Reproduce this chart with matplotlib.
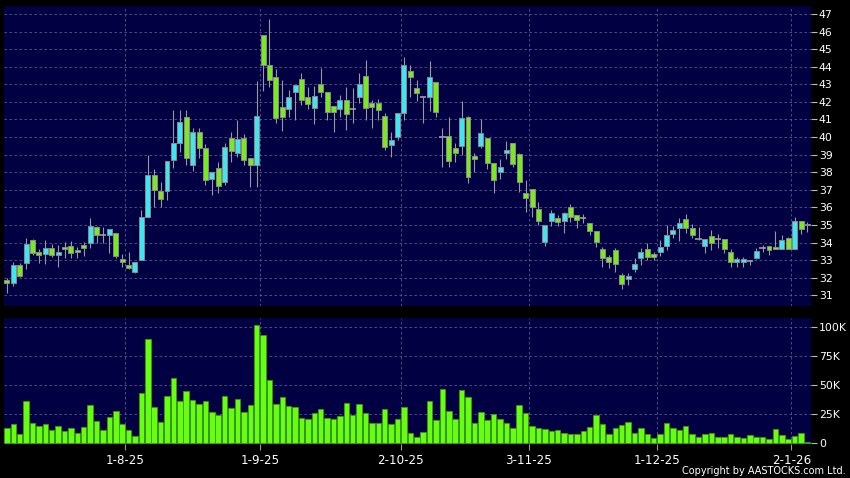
import numpy as np
import matplotlib
matplotlib.use("Agg")
import matplotlib.pyplot as plt

# daily candles, index 0 = first trading day shown
opens = [31.85, 31.68, 32.71, 32.82, 34.13, 33.45, 33.33, 33.71, 33.28, 33.77,
         33.83, 33.56, 33.88, 33.96, 34.90, 34.43, 34.43, 34.56, 33.05, 32.71,
         32.31, 33.02, 35.44, 37.82, 36.95, 36.93, 38.70, 39.64, 41.16, 38.41,
         40.27, 39.40, 37.60, 38.26, 37.43, 39.97, 39.08, 39.97, 38.79, 38.41,
         45.81, 44.10, 43.40, 41.73, 41.58, 42.58, 43.28, 42.26, 41.64, 43.00,
         42.55, 41.79, 41.58, 42.11, 41.58, 42.26, 43.49, 41.96, 41.92, 41.20,
         39.53, 40.02, 41.35, 43.76, 42.77, 42.26, 42.26, 43.11, 40.02, 40.08,
         39.36, 39.49, 41.16, 38.92, 39.49, 39.97, 38.51, 38.00, 39.08, 39.64,
         39.02, 36.80, 37.03, 35.89, 34.01, 35.23, 35.38, 35.25, 36.04, 35.57,
         35.38, 35.10, 34.66, 33.62, 33.20, 33.58, 32.14, 31.91, 32.48, 33.10,
         33.62, 33.33, 33.45, 33.81, 34.47, 34.81, 35.32, 34.81, 34.22, 33.81,
         34.37, 34.20, 34.22, 33.48, 32.90, 32.88, 32.95, 33.12, 33.71, 33.81,
         33.77, 33.62, 34.28, 33.62, 35.23, 35.00]
highs = [31.97, 32.91, 32.82, 34.24, 34.20, 33.62, 34.15, 33.90, 33.86, 34.05,
         34.10, 33.77, 34.05, 35.38, 34.96, 34.90, 34.79, 34.56, 33.33, 33.48,
         32.88, 35.85, 38.98, 38.17, 37.46, 38.66, 41.54, 41.54, 41.54, 40.50,
         40.50, 39.59, 38.03, 38.56, 39.64, 40.27, 40.97, 40.20, 38.79, 43.21,
         45.81, 46.72, 43.87, 43.25, 42.68, 42.94, 43.63, 42.87, 42.91, 43.95,
         42.55, 41.79, 42.39, 42.83, 42.77, 43.63, 44.38, 42.11, 42.15, 41.35,
         40.31, 41.35, 44.57, 44.10, 43.25, 42.26, 44.33, 43.11, 40.50, 41.16,
         39.68, 42.05, 41.22, 39.08, 41.03, 39.97, 38.51, 38.75, 39.80, 39.64,
         39.08, 37.56, 37.03, 36.33, 34.98, 35.85, 35.57, 35.76, 36.19, 35.57,
         35.60, 35.10, 34.66, 33.73, 33.29, 33.67, 32.25, 32.25, 33.10, 33.71,
         33.96, 33.48, 34.15, 34.98, 34.94, 35.38, 35.60, 35.06, 34.90, 34.22,
         34.72, 34.49, 34.22, 33.62, 33.20, 33.16, 33.01, 33.67, 33.86, 33.81,
         34.66, 34.43, 34.33, 35.44, 35.23, 35.19]
lows = [31.15, 31.53, 32.06, 32.48, 33.30, 32.86, 32.76, 33.20, 32.63, 33.10,
        33.14, 33.14, 33.26, 33.67, 34.00, 33.96, 33.39, 33.10, 32.63, 32.48,
        32.25, 33.00, 35.44, 36.04, 36.04, 36.42, 38.22, 39.17, 38.41, 38.09,
        38.79, 37.27, 36.71, 36.80, 37.27, 38.60, 38.89, 38.41, 37.18, 37.18,
        42.64, 42.83, 40.82, 40.36, 41.16, 40.97, 41.82, 41.58, 40.74, 42.30,
        40.97, 40.31, 41.16, 40.40, 40.82, 41.92, 40.97, 40.50, 40.97, 39.27,
        38.89, 39.83, 40.97, 42.30, 42.07, 40.82, 41.50, 41.16, 38.28, 38.32,
        38.60, 38.98, 37.37, 38.03, 39.36, 38.17, 36.80, 37.62, 38.73, 38.32,
        36.90, 35.76, 35.47, 35.00, 33.81, 34.94, 34.94, 34.53, 35.15, 34.85,
        35.10, 34.43, 33.73, 32.63, 32.54, 32.35, 31.34, 31.59, 32.35, 32.73,
        33.01, 33.01, 33.24, 33.58, 34.24, 34.11, 34.53, 34.24, 34.15, 33.39,
        33.58, 33.67, 33.39, 32.63, 32.63, 32.63, 32.73, 33.05, 33.48, 33.29,
        33.62, 33.62, 33.62, 33.62, 34.47, 34.58]
closes = [31.70, 32.71, 32.12, 33.94, 33.39, 33.28, 33.71, 33.28, 33.48, 33.62,
          33.39, 33.45, 33.67, 34.96, 34.43, 34.43, 34.79, 33.26, 32.88, 32.57,
          32.88, 35.44, 37.82, 36.99, 36.46, 38.66, 39.64, 40.84, 38.79, 40.31,
          39.36, 37.56, 38.03, 37.22, 39.45, 39.21, 39.87, 38.70, 38.41, 41.20,
          44.10, 43.25, 41.07, 41.16, 42.26, 42.94, 42.11, 41.86, 42.36, 42.55,
          41.41, 41.41, 42.11, 41.29, 41.58, 43.02, 41.64, 41.73, 41.54, 39.45,
          39.83, 41.35, 44.10, 43.40, 42.49, 42.26, 43.44, 41.41, 40.02, 38.64,
          39.11, 41.07, 37.71, 38.73, 40.21, 38.51, 37.56, 38.28, 39.25, 38.47,
          37.43, 36.52, 36.04, 35.23, 34.98, 35.66, 35.15, 35.66, 35.44, 35.28,
          35.38, 34.66, 34.01, 33.10, 32.88, 32.78, 31.63, 32.10, 32.76, 33.48,
          33.16, 33.16, 33.77, 34.41, 34.72, 35.13, 34.81, 34.43, 34.22, 34.22,
          33.96, 34.20, 33.62, 32.90, 33.05, 33.05, 32.95, 33.54, 33.71, 33.58,
          33.62, 34.15, 33.62, 35.25, 34.75, 35.04]
# volume in thousands of shares
volumes = [12.9, 16.3, 7.7, 36.3, 17.7, 15.1, 16.6, 11.4, 14.9, 10.6,
           12.9, 8.6, 14.3, 32.9, 19.1, 11.4, 22.3, 27.7, 16.6, 11.4,
           6.3, 43.4, 89.4, 31.1, 18.0, 40.9, 55.7, 36.0, 44.9, 36.9,
           33.4, 36.6, 27.1, 24.3, 40.6, 30.0, 38.3, 26.6, 33.1, 101.4,
           92.6, 54.6, 33.4, 40.0, 32.0, 31.1, 21.4, 20.9, 26.0, 29.4,
           22.0, 21.1, 23.4, 34.3, 24.0, 33.4, 26.3, 17.7, 17.7, 29.4,
           16.6, 21.1, 30.9, 8.9, 5.4, 9.7, 36.3, 20.0, 46.3, 27.7,
           20.9, 45.4, 39.4, 17.1, 26.9, 20.3, 24.9, 20.6, 17.7, 13.1,
           32.6, 26.0, 15.1, 13.1, 12.3, 10.9, 11.1, 8.9, 7.7, 8.0,
           10.3, 14.0, 24.3, 16.3, 7.7, 13.1, 15.4, 18.0, 8.9, 12.9,
           7.7, 4.6, 8.3, 17.7, 13.1, 11.7, 14.6, 7.7, 5.7, 7.7,
           8.6, 5.7, 5.4, 8.3, 5.4, 4.6, 6.9, 5.7, 5.7, 4.0,
           12.3, 7.1, 4.0, 6.3, 8.9, 1.4]

# month starts (trading-day index) and their labels
date_idx = [19, 40, 62, 82, 102, 123]
date_labels = ["1-8-25", "1-9-25", "2-10-25", "3-11-25", "1-12-25", "2-1-26"]
price_ticks = list(range(31, 48))
vol_ticks = [0, 25, 50, 75, 100]
vol_labels = ["0", "25K", "50K", "75K", "100K"]

BG = "#000042"
GRID = "#5a5a8e"
UP = "#3ee6f2"
DOWN = "#78ea1e"
VOL = "#66ff11"

o = np.array(opens); h = np.array(highs); l = np.array(lows); c = np.array(closes)
x = np.arange(len(o))

fig = plt.figure(figsize=(8.5, 4.78), dpi=100, facecolor="black")
W, H = 850.0, 478.0
ax = fig.add_axes([3.5 / W, 1 - 306 / H, 807 / W, 300 / H])
axv = fig.add_axes([3.5 / W, 1 - 444 / H, 807 / W, 125.7 / H])

for a in (ax, axv):
    a.set_facecolor(BG)
    for s in a.spines.values():
        s.set_visible(False)
    a.set_xlim(-0.53, 125.48)
    a.set_xticks([d - 0.5 for d in date_idx])
    a.grid(True, color=GRID, linestyle=(0, (3, 3)), linewidth=0.6)
    a.set_axisbelow(True)
    a.yaxis.tick_right()
    a.tick_params(axis="y", colors="#bbbbbb", labelcolor="white", length=4,
                  width=0.8, pad=2, labelsize=7.8)

# candles
ax.vlines(x, l, h, color="#9a9a9a", linewidth=0.8, zorder=2)
up = c > o
down = c < o
flat = c == o
ax.bar(x[up], (c - o)[up], bottom=o[up], width=0.78, color=UP,
       edgecolor="#8a8a8a", linewidth=0.7, zorder=3)
ax.bar(x[down], (o - c)[down], bottom=c[down], width=0.78, color=DOWN,
       edgecolor="#8a8a8a", linewidth=0.7, zorder=3)
ax.hlines(c[flat], x[flat] - 0.5, x[flat] + 0.5, color="#a0a0a0",
          linewidth=1.2, zorder=3)
ax.set_ylim(30.393, 47.455)
ax.set_yticks(price_ticks)
ax.set_yticklabels([str(p) for p in price_ticks])
ax.tick_params(axis="x", length=0, labelbottom=False)

# volume
axv.bar(x, volumes, width=0.86, color=VOL, edgecolor="#3c9a10", linewidth=0.6, zorder=3)
axv.set_ylim(-0.6, 107.2)
axv.set_yticks(vol_ticks)
axv.set_yticklabels(vol_labels)
axv.set_xticklabels(date_labels)
axv.tick_params(axis="x", colors="#999999", labelcolor="white", length=4,
                width=0.8, pad=3, labelsize=8.6)

fig.text(846 / W, 1 - 471.5 / H, "Copyright by AASTOCKS.com Ltd.", color="white",
         fontsize=7, ha="right", va="center")

fig.savefig("out.png", dpi=100, facecolor="black")
